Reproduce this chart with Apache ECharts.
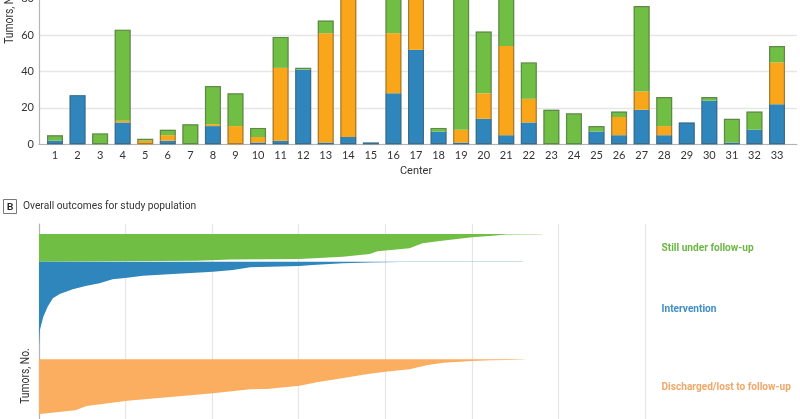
<!DOCTYPE html>
<html>
<head>
<meta charset="utf-8">
<style>
  html, body { margin: 0; padding: 0; background: #fff; }
  #main { width: 800px; height: 419px; }
</style>
<script src="https://cdn.jsdelivr.net/npm/echarts@6/dist/echarts.min.js"></script>
</head>
<body>
<div id="main"></div>
<script>
// panel A: tumors per center (bars above 80 run off the picture, tops are guesses)
var centers = ['1','2','3','4','5','6','7','8','9','10','11','12','13','14','15','16','17','18','19','20','21','22','23','24','25','26','27','28','29','30','31','32','33'];
var interventionByCenter = [2,27,0,12,0,2,0,10,0,1,2,41,1,4,1,28,52,7,1,14,5,12,0,0,7,5,19,5,12,24,1,8,22];
var dischargedByCenter = [0,0,0,1,2,3,0,1,10,3,40,0,60,80,0,33,38,0,7,14,49,13,0,0,0,10,10,5,0,0,0,0,23];
var followUpByCenter = [3,0,6,50,1,3,11,21,18,5,17,1,7,10,0,34,0,2,92,34,36,20,19,17,3,3,47,16,0,2,13,10,9];

// panel B: outcome profiles, duration (one gridline = 100) against tumor rank from the top
var followUpDuration = [581,581,540,524,500,463,443,428,391,382,351,301,221,182,0];
var followUpRank = [10,10.25,10.4,11.7,13.3,17,19.3,24.3,27.3,30,32.7,35,35.5,36.7,37.7];
var interventionDuration = [559,559,454,417,382,351,316,301,244,224,201,155,120,102,85,70,55,39,24,16,10,5,1,0];
var interventionRank = [37.7,37.95,38,38.1,38.4,39.3,41,42,43.3,46,47.7,50,51.7,53.7,55.3,59.3,61.7,65.3,70,74.3,82.7,92.7,106,122];
var dischargedDuration = [561,561,542,521,500,467,449,428,400,380,350,321,301,263,244,201,155,102,55,42,1,0];
var dischargedRank = [135.3,135.6,135.9,136.3,137,138.7,141,145.3,147.7,150,154.3,158.3,161.7,165,165.3,169.3,172.7,176.7,182,186.3,190,190];

var centerTotals = centers.map(function (c, i) {
  return interventionByCenter[i] + dischargedByCenter[i] + followUpByCenter[i];
});

var textFont = 'Roboto, "Noto Sans", sans-serif';
var tickFont = 'Lato, "Noto Sans", sans-serif';
var textColor = '#333';

function stacked(name, values, color) {
  return {
    name: name,
    type: 'bar',
    stack: 'center',
    xAxisIndex: 0,
    yAxisIndex: 0,
    barWidth: 16,
    barGap: '-100%',
    data: values,
    itemStyle: { color: color }
  };
}

// one polygon per outcome, built from the rows through the axis scales
function profile(name, durations, ranks, color) {
  return {
    name: name,
    type: 'custom',
    xAxisIndex: 2,
    yAxisIndex: 2,
    silent: true,
    data: durations.map(function (d, i) { return [d, ranks[i]]; }),
    renderItem: function (params, api) {
      if (params.dataIndex !== 0) return null;
      var pts = [api.coord([0, ranks[0]])];
      durations.forEach(function (d, i) {
        pts.push(api.coord([d, ranks[i]]));
      });
      return { type: 'polygon', shape: { points: pts }, style: { fill: color } };
    }
  };
}

// condensed look of the journal font, squeezed from an installed face
function label(text, x, y, color, size, squeeze, weight) {
  return {
    type: 'text',
    x: x,
    y: y,
    scaleX: squeeze,
    style: { text: text, fill: color, font: (weight || 'normal') + ' ' + size + 'px ' + textFont, verticalAlign: 'middle' }
  };
}

function sideLabel(x, y) {
  return {
    type: 'text',
    x: x,
    y: y,
    rotation: Math.PI / 2,
    scaleX: 0.86,
    style: { text: 'Tumors, No.', fill: textColor, font: '12px ' + textFont, align: 'center', verticalAlign: 'middle' }
  };
}

var chart = echarts.init(document.getElementById('main'));

chart.setOption({
  animation: false,
  textStyle: { fontFamily: tickFont },
  grid: [
    { left: 43.7, width: 744.6, top: -37.7, height: 182, outerBoundsMode: 'none' },
    { left: 39, width: 758, top: -37.7, height: 182, outerBoundsMode: 'none' },
    { left: 39, width: 606, top: 224, height: 195, outerBoundsMode: 'none' }
  ],
  xAxis: [
    {
      type: 'category',
      gridIndex: 0,
      data: centers,
      axisLine: { show: false },
      axisTick: { show: false },
      axisLabel: { color: textColor, fontSize: 11, margin: 6, interval: 0 },
      name: 'Center',
      nameLocation: 'middle',
      nameGap: 21,
      nameTextStyle: { color: textColor, fontSize: 11, fontFamily: textFont }
    },
    {
      type: 'value',
      gridIndex: 1,
      min: 0,
      max: 1,
      axisLine: { show: true, onZero: false, lineStyle: { color: '#b4b4b4', width: 1.2 } },
      axisTick: { show: false },
      axisLabel: { show: false },
      splitLine: { show: false }
    },
    {
      type: 'value',
      gridIndex: 2,
      min: 0,
      max: 700,
      interval: 100,
      axisLine: { show: false },
      axisTick: { show: false },
      axisLabel: { show: false },
      splitLine: { show: true, lineStyle: { color: '#e6e6e6', width: 1.3 } }
    }
  ],
  yAxis: [
    {
      type: 'value',
      gridIndex: 0,
      min: 0,
      max: 100,
      interval: 20,
      axisLine: { show: false },
      axisTick: { show: false },
      axisLabel: { show: false },
      splitLine: { show: false }
    },
    {
      type: 'value',
      gridIndex: 1,
      min: 0,
      max: 100,
      interval: 20,
      axisLine: { show: true, lineStyle: { color: '#b4b4b4', width: 1.2 } },
      axisTick: { show: false },
      axisLabel: { color: textColor, fontSize: 11, margin: 5 },
      splitLine: { show: true, lineStyle: { color: '#e6e6e6', width: 1.3 } }
    },
    {
      type: 'value',
      gridIndex: 2,
      inverse: true,
      min: 0,
      max: 195,
      axisLine: { show: true, lineStyle: { color: '#b4b4b4', width: 1.2 } },
      axisTick: { show: false },
      axisLabel: { show: false },
      splitLine: { show: false }
    }
  ],
  series: [
    stacked('Intervention', interventionByCenter, '#2F86BD'),
    stacked('Discharged/lost to follow-up', dischargedByCenter, '#FAA61A'),
    stacked('Still under follow-up', followUpByCenter, '#70BF44'),
    {
      name: 'Outline',
      type: 'bar',
      stack: 'outline',
      xAxisIndex: 0,
      yAxisIndex: 0,
      barWidth: 16,
      barGap: '-100%',
      silent: true,
      data: centerTotals,
      itemStyle: { color: 'transparent', borderColor: 'rgba(80,80,80,0.5)', borderWidth: 1.2 }
    },
    profile('Still under follow-up', followUpDuration, followUpRank, '#70BF44'),
    profile('Intervention', interventionDuration, interventionRank, '#2F86BD'),
    profile('Discharged/lost to follow-up', dischargedDuration, dischargedRank, '#FBAE60')
  ],
  graphic: [
    {
      type: 'rect',
      shape: { x: 3.5, y: 199.5, width: 13, height: 14 },
      style: { fill: '#fff', stroke: '#777', lineWidth: 1 }
    },
    {
      type: 'text',
      x: 10,
      y: 206.5,
      style: { text: 'B', fill: '#222', font: 'bold 10px ' + tickFont, align: 'center', verticalAlign: 'middle' }
    },
    label('Overall outcomes for study population', 23, 206.5, textColor, 11.5, 0.89),
    sideLabel(10, 16),
    sideLabel(26, 376),
    label('Still under follow-up', 661.5, 248, '#6DB744', 11.5, 0.88, 'bold'),
    label('Intervention', 661.5, 309, '#3D8FC6', 11.5, 0.88, 'bold'),
    label('Discharged/lost to follow-up', 661.5, 387, '#F0A868', 11.5, 0.88, 'bold')
  ]
});
</script>
</body>
</html>
